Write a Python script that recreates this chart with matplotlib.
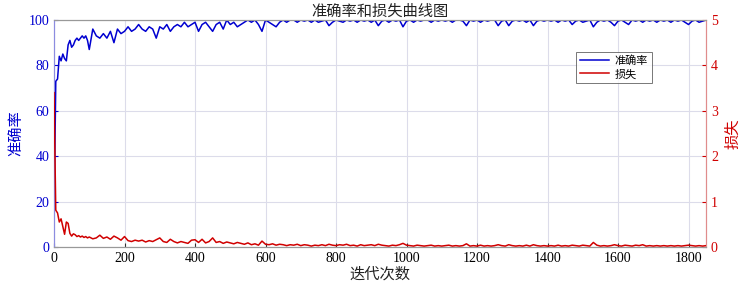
import numpy as np
import matplotlib
matplotlib.use('Agg')
import matplotlib.pyplot as plt

plt.rcParams['font.family'] = ['Liberation Serif', 'Noto Sans CJK SC']
plt.rcParams['axes.unicode_minus'] = False

# 迭代位置：前100次每5次记录一次，之后每10次
iters = np.concatenate([np.arange(0, 100, 5), np.arange(100, 1851, 10)])

acc_early = [12, 73, 74, 84, 82, 85, 83, 82, 89, 91, 88, 89, 91, 92, 91, 92, 93, 92, 93, 91]
acc_rest = [
    87, 96, 93, 92, 94, 92, 95, 90, 96, 94,            # 100-190
    95, 97, 95, 96, 98, 96, 95, 97, 96, 92,            # 200-290
    97, 96, 98, 95, 97, 98, 97, 99, 97, 98,            # 300-390
    99, 95, 98, 99, 97, 95, 98, 99, 96, 100,           # 400-490
    98, 99, 97, 98, 99, 100, 99, 100, 98, 95,          # 500-590
    100, 99, 98, 97, 99, 100, 99, 100, 100, 99,        # 600-690
    100, 99.5, 100, 99, 100, 99, 99.5, 100, 97.5, 99,  # 700-790
    100, 99.5, 99, 100, 99.5, 100, 99, 100, 99.5, 100, # 800-890
    99, 100, 97.5, 99.5, 100, 99, 100, 99.5, 100, 97,  # 900-990
    99.5, 100, 99, 100, 99.5, 100, 100, 99, 100, 99.5, # 1000-1090
    100, 99.5, 100, 99, 100, 100, 99.5, 97.5, 100, 99.5,  # 1100-1190
    100, 99, 100, 99.5, 100, 100, 97.5, 99.5, 100, 97.5,  # 1200-1290
    99.5, 100, 99.5, 100, 99, 100, 97.5, 99.5, 100, 99.5, # 1300-1390
    100, 99.5, 100, 99, 100, 99.5, 100, 98, 99.5, 100,    # 1400-1490
    99, 99.5, 100, 97, 99, 100, 99.5, 100, 99, 97.5,      # 1500-1590
    99.5, 100, 99, 98, 100, 99.5, 100, 99, 100, 99.5,     # 1600-1690
    100, 99, 100, 99.5, 100, 99, 100, 99.5, 100, 99,      # 1700-1790
    98, 99.5, 100, 99, 99.5, 100,                         # 1800-1850
]
accuracy = acc_early + acc_rest

loss_early = [3.4, 0.81, 0.75, 0.55, 0.62, 0.45, 0.28, 0.55, 0.52, 0.30,
              0.24, 0.29, 0.27, 0.23, 0.25, 0.22, 0.24, 0.21, 0.23, 0.20]
loss_rest = [
    0.22, 0.18, 0.20, 0.26, 0.19, 0.22, 0.17, 0.24, 0.20, 0.15,  # 100-190
    0.23, 0.14, 0.12, 0.15, 0.13, 0.15, 0.11, 0.14, 0.12, 0.16,  # 200-290
    0.20, 0.12, 0.10, 0.17, 0.12, 0.09, 0.12, 0.10, 0.08, 0.15,  # 300-390
    0.16, 0.10, 0.17, 0.09, 0.12, 0.20, 0.10, 0.12, 0.08, 0.11,  # 400-490
    0.09, 0.07, 0.10, 0.08, 0.06, 0.09, 0.05, 0.07, 0.04, 0.13,  # 500-590
    0.06, 0.05, 0.07, 0.04, 0.06, 0.05, 0.03, 0.05, 0.04, 0.06,  # 600-690
    0.03, 0.05, 0.04, 0.02, 0.04, 0.03, 0.05, 0.03, 0.06, 0.04,  # 700-790
    0.03, 0.05, 0.04, 0.06, 0.03, 0.04, 0.02, 0.05, 0.03, 0.04,  # 800-890
    0.05, 0.03, 0.06, 0.04, 0.03, 0.02, 0.04, 0.03, 0.05, 0.08,  # 900-990
    0.04, 0.03, 0.02, 0.04, 0.03, 0.02, 0.03, 0.04, 0.02, 0.03,  # 1000-1090
    0.02, 0.03, 0.04, 0.02, 0.03, 0.02, 0.03, 0.07, 0.02, 0.03,  # 1100-1190
    0.02, 0.04, 0.02, 0.03, 0.02, 0.03, 0.05, 0.03, 0.02, 0.05,  # 1200-1290
    0.03, 0.02, 0.03, 0.02, 0.04, 0.02, 0.05, 0.03, 0.02, 0.03,  # 1300-1390
    0.02, 0.03, 0.02, 0.04, 0.02, 0.03, 0.02, 0.04, 0.03, 0.02,  # 1400-1490
    0.04, 0.03, 0.02, 0.10, 0.04, 0.02, 0.03, 0.02, 0.03, 0.05,  # 1500-1590
    0.03, 0.02, 0.04, 0.03, 0.02, 0.04, 0.03, 0.05, 0.02, 0.03,  # 1600-1690
    0.02, 0.03, 0.02, 0.03, 0.02, 0.03, 0.02, 0.03, 0.02, 0.03,  # 1700-1790
    0.04, 0.03, 0.02, 0.03, 0.02, 0.03,                          # 1800-1850
]
loss = loss_early + loss_rest

blue = '#0000d0'
red = '#d00000'

fig = plt.figure(figsize=(7.44, 2.88), dpi=100)
ax1 = fig.add_axes([0.0726, 0.1424, 0.8765, 0.7882])
ax2 = ax1.twinx()

l1, = ax1.plot(iters, accuracy, color=blue, linewidth=1.1, label='准确率', zorder=3)
l2, = ax2.plot(iters, loss, color=red, linewidth=1.1, label='损失', zorder=3)

ax1.set_xlim(0, 1850)
ax1.set_ylim(0, 100)
ax2.set_ylim(0, 5)
ax1.set_xticks(np.arange(0, 1801, 200))
ax1.set_yticks(np.arange(0, 101, 20))
ax2.set_yticks(np.arange(0, 6, 1))

ax1.grid(True, color='#dcdcea', linewidth=0.8)
ax1.set_axisbelow(True)

ax1.tick_params(axis='y', colors=blue, labelsize=10, direction='in', length=3)
ax1.tick_params(axis='x', colors='#333333', labelcolor='black', labelsize=10,
                direction='in', length=3)
ax2.tick_params(axis='y', colors=red, labelsize=10, direction='in', length=3)

for ax in (ax1, ax2):
    ax.spines['top'].set_color('#999999')
    ax.spines['bottom'].set_color('#999999')
    ax.spines['left'].set_color('#8c8ce0')
    ax.spines['right'].set_color('#e08c8c')
    for s in ax.spines.values():
        s.set_linewidth(0.8)

ax1.set_ylabel('准确率', color=blue, fontsize=11, labelpad=4)
ax2.set_ylabel('损失', color=red, fontsize=11, labelpad=6)
ax1.set_xlabel('迭代次数', fontsize=11, color='#222222', labelpad=2)
ax1.set_title('准确率和损失曲线图', fontsize=11, color='#222222', pad=3)

leg = ax2.legend([l1, l2], ['准确率', '损失'], loc='upper right',
                 bbox_to_anchor=(0.925, 0.885), fontsize=8, frameon=True,
                 fancybox=False, edgecolor='#555555', handlelength=2.6,
                 borderpad=0.35, labelspacing=0.25, handletextpad=0.5)
leg.get_frame().set_linewidth(0.7)
leg.set_zorder(5)

fig.savefig('out.png', dpi=100)
